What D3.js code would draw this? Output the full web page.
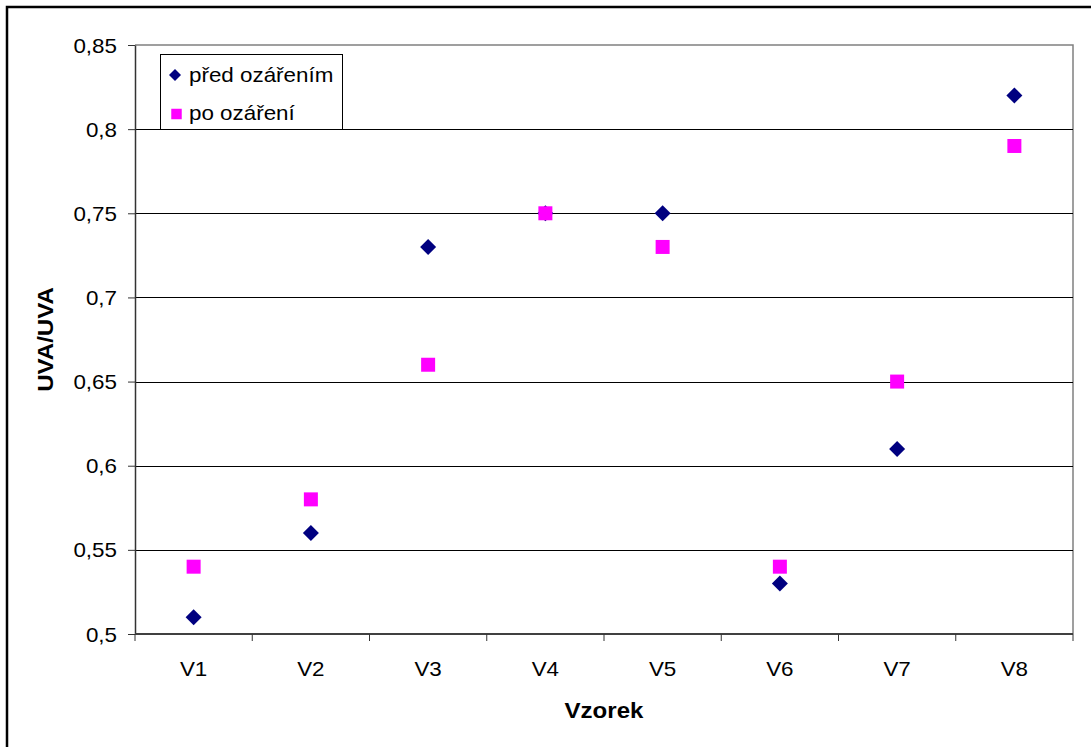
<!DOCTYPE html>
<html>
<head>
<meta charset="utf-8">
<script src="https://cdn.jsdelivr.net/npm/d3@7"></script>
<style>
  html, body { margin: 0; padding: 0; background: #fff; }
  svg text { font-family: "Liberation Sans", Arial, sans-serif; fill: #000; }
</style>
</head>
<body>
<div id="chart"></div>
<script>
// data
const categories = ["V1", "V2", "V3", "V4", "V5", "V6", "V7", "V8"];
const predOzarenim = [0.51, 0.56, 0.73, 0.75, 0.75, 0.53, 0.61, 0.82];
const poOzareni = [0.54, 0.58, 0.66, 0.75, 0.73, 0.54, 0.65, 0.79];
const yTicks = [0.5, 0.55, 0.6, 0.65, 0.7, 0.75, 0.8, 0.85];
const seriesNames = ["před ozářením", "po ozáření"];

const W = 1091, H = 747;
const plot = { left: 135, right: 1073, top: 45, bottom: 634 };
const stretch = 1.12; // reference text is slightly wide

const svg = d3.select("#chart").append("svg")
    .attr("width", W)
    .attr("height", H);

svg.append("rect").attr("width", W).attr("height", H).attr("fill", "#fff");

// outer frame (runs off the right / bottom edge)
svg.append("rect")
    .attr("x", 7).attr("y", 7)
    .attr("width", W + 20).attr("height", H + 20)
    .attr("fill", "none")
    .attr("stroke", "#000")
    .attr("stroke-width", 2.5);

const x = d3.scaleBand()
    .domain(categories)
    .range([plot.left, plot.right]);

const y = d3.scaleLinear()
    .domain([0.5, 0.85])
    .range([plot.bottom, plot.top]);

const fmt = d => (+d.toFixed(2)).toString().replace(".", ",");

// plot border (grey, top + right)
svg.append("path")
    .attr("d", `M${plot.left},${plot.top}H${plot.right}V${plot.bottom}`)
    .attr("fill", "none")
    .attr("stroke", "#808080")
    .attr("stroke-width", 1.5);

// gridlines
svg.append("g")
    .selectAll("line")
    .data(yTicks.filter(d => d > 0.5 && d < 0.85))
    .enter().append("line")
    .attr("x1", plot.left).attr("x2", plot.right)
    .attr("y1", d => Math.round(y(d)) + 0.5)
    .attr("y2", d => Math.round(y(d)) + 0.5)
    .attr("stroke", "#000")
    .attr("stroke-width", 1);

// y axis
const yAxis = svg.append("g")
    .attr("transform", `translate(${plot.left},0)`)
    .call(d3.axisLeft(y).tickValues(yTicks).tickFormat(fmt).tickSize(7).tickSizeOuter(0));
yAxis.select(".domain").attr("stroke", "#333").attr("stroke-width", 1.5);
yAxis.selectAll(".tick line").attr("stroke", "#333");
yAxis.selectAll(".tick text")
    .attr("x", -18 / stretch)
    .attr("dy", "0.35em")
    .attr("transform", `scale(${stretch},1)`)
    .style("font-size", "20px");

// x axis: labels at band centres, ticks at band edges
const xAxis = svg.append("g")
    .attr("transform", `translate(0,${plot.bottom})`)
    .call(d3.axisBottom(x).tickSize(0).tickSizeOuter(0));
xAxis.select(".domain").attr("stroke", "#404040").attr("stroke-width", 2)
    .attr("d", `M${plot.left},0H${plot.right}`);
xAxis.selectAll(".tick text")
    .attr("y", 42)
    .attr("dy", 0)
    .attr("transform", `scale(${stretch},1)`)
    .attr("x", 0)
    .style("font-size", "20px");
xAxis.selectAll(".tick")
    .attr("transform", d => `translate(${x(d) + x.bandwidth() / 2},0)`);

const edges = categories.map(c => x(c)).concat([x.range()[1]]);
xAxis.append("g").selectAll("line")
    .data(edges)
    .enter().append("line")
    .attr("x1", d => d).attr("x2", d => d)
    .attr("y1", 0).attr("y2", 7)
    .attr("stroke", "#333")
    .attr("stroke-width", 1);

// axis titles
svg.append("text")
    .attr("transform", `translate(${(plot.left + plot.right) / 2},718) scale(${stretch},1)`)
    .attr("text-anchor", "middle")
    .style("font-size", "21.5px")
    .style("font-weight", "bold")
    .text("Vzorek");

svg.append("text")
    .attr("transform", `translate(53,${(plot.top + plot.bottom) / 2}) rotate(-90) scale(${stretch},1)`)
    .attr("text-anchor", "middle")
    .style("font-size", "21.5px")
    .style("font-weight", "bold")
    .text("UVA/UVA");

// markers
const diamond = d3.symbol().type(d3.symbolSquare).size(128);
const square = d3.symbol().type(d3.symbolSquare).size(196);
const cx = i => x(categories[i]) + x.bandwidth() / 2;

svg.append("g").selectAll("path")
    .data(predOzarenim)
    .enter().append("path")
    .attr("d", diamond)
    .attr("transform", (d, i) => `translate(${cx(i)},${y(d)}) rotate(45)`)
    .attr("fill", "#000080");

svg.append("g").selectAll("path")
    .data(poOzareni)
    .enter().append("path")
    .attr("d", square)
    .attr("transform", (d, i) => `translate(${cx(i)},${y(d)})`)
    .attr("fill", "#ff00ff");

// legend
const legend = svg.append("g");
legend.append("rect")
    .attr("x", 160.5).attr("y", 54.5)
    .attr("width", 182).attr("height", 75)
    .attr("fill", "#fff")
    .attr("stroke", "#000")
    .attr("stroke-width", 1);

legend.append("path")
    .attr("d", d3.symbol().type(d3.symbolSquare).size(72))
    .attr("transform", "translate(175,75) rotate(45)")
    .attr("fill", "#000080");
legend.append("path")
    .attr("d", d3.symbol().type(d3.symbolSquare).size(110))
    .attr("transform", "translate(176.5,114)")
    .attr("fill", "#ff00ff");

legend.selectAll("text")
    .data(seriesNames)
    .enter().append("text")
    .attr("transform", (d, i) => `translate(189,${82 + i * 38}) scale(${stretch},1)`)
    .style("font-size", "20px")
    .text(d => d);
</script>
</body>
</html>
